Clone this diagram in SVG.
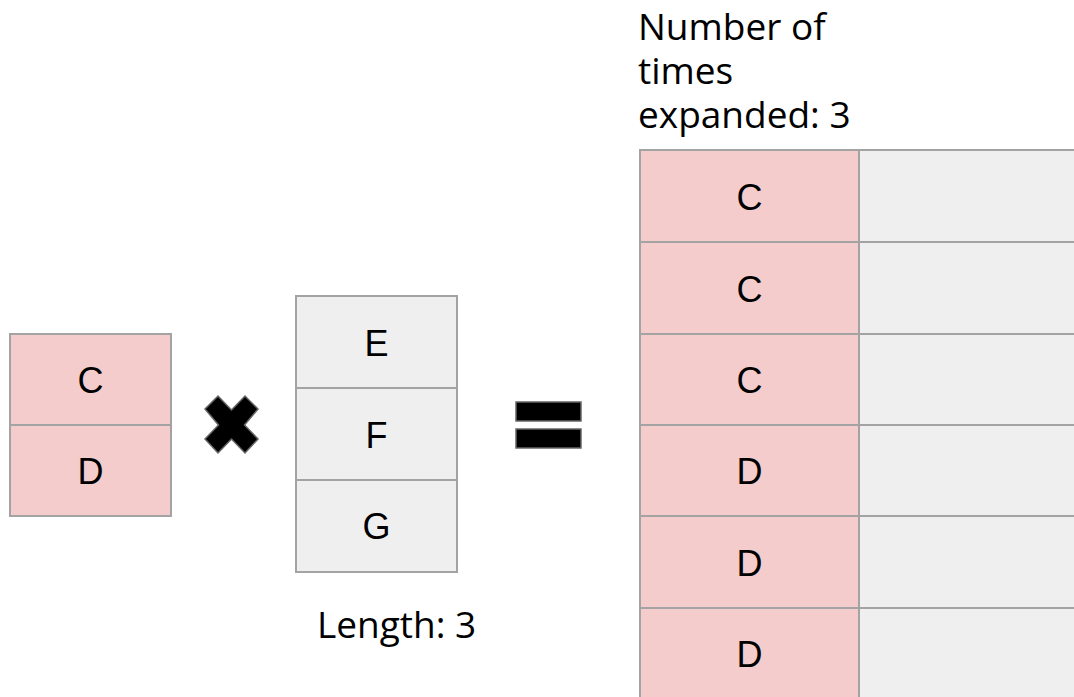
<svg xmlns="http://www.w3.org/2000/svg" width="1074" height="697" viewBox="0 0 1074 697">
  <style>
    .pink { fill: #f4cccc; stroke: #a3a3a3; stroke-width: 2; }
    .gray { fill: #efefef; stroke: #a3a3a3; stroke-width: 2; }
    .cell { font-family: "Liberation Sans", Arial, sans-serif; font-size: 36px; fill: #000; text-anchor: middle; }
    .note { font-family: "Open Sans", "Noto Sans", sans-serif; font-size: 37px; fill: #000; }
    .sym { fill: #000; stroke: #666; stroke-width: 1.5; }
  </style>
  <rect width="1074" height="697" fill="#fff"/>

  <!-- left column: C, D -->
  <g id="left-column">
    <rect class="pink" x="10" y="334" width="161" height="91"/>
    <rect class="pink" x="10" y="425" width="161" height="91"/>
    <text class="cell" x="90.5" y="393">C</text>
    <text class="cell" x="90.5" y="484">D</text>
  </g>

  <!-- multiplication sign -->
  <g id="times-sign">
    <polygon class="sym" points="205,409 218,396 231.5,410 245,396 258,409 244.5,425 258,439 245,453 231.5,439 218,453 205,439 218.5,425"/>
  </g>

  <!-- middle column: E, F, G -->
  <g id="middle-column">
    <rect class="gray" x="296" y="296" width="161" height="92"/>
    <rect class="gray" x="296" y="388" width="161" height="92"/>
    <rect class="gray" x="296" y="480" width="161" height="92"/>
    <text class="cell" x="376.5" y="356">E</text>
    <text class="cell" x="376.5" y="448">F</text>
    <text class="cell" x="376.5" y="539">G</text>
    <text class="note" x="317" y="638">Length: 3</text>
  </g>

  <!-- equals sign -->
  <g id="equals-sign">
    <rect class="sym" x="516" y="402" width="65" height="19"/>
    <rect class="sym" x="516" y="429" width="65" height="19"/>
  </g>

  <!-- result table -->
  <g id="result-table">
    <text class="note" x="638" y="40">Number of<tspan x="638" dy="44">times</tspan><tspan x="638" dy="44">expanded: 3</tspan></text>
    <rect class="pink" x="640" y="150" width="219" height="92"/>
    <rect class="pink" x="640" y="242" width="219" height="92"/>
    <rect class="pink" x="640" y="334" width="219" height="91"/>
    <rect class="pink" x="640" y="425" width="219" height="91"/>
    <rect class="pink" x="640" y="516" width="219" height="92"/>
    <rect class="pink" x="640" y="608" width="219" height="92"/>
    <rect class="gray" x="859" y="150" width="220" height="92"/>
    <rect class="gray" x="859" y="242" width="220" height="92"/>
    <rect class="gray" x="859" y="334" width="220" height="91"/>
    <rect class="gray" x="859" y="425" width="220" height="91"/>
    <rect class="gray" x="859" y="516" width="220" height="92"/>
    <rect class="gray" x="859" y="608" width="220" height="92"/>
    <text class="cell" x="749.5" y="210">C</text>
    <text class="cell" x="749.5" y="302">C</text>
    <text class="cell" x="749.5" y="393">C</text>
    <text class="cell" x="749.5" y="484">D</text>
    <text class="cell" x="749.5" y="576">D</text>
    <text class="cell" x="749.5" y="667">D</text>
  </g>
</svg>
